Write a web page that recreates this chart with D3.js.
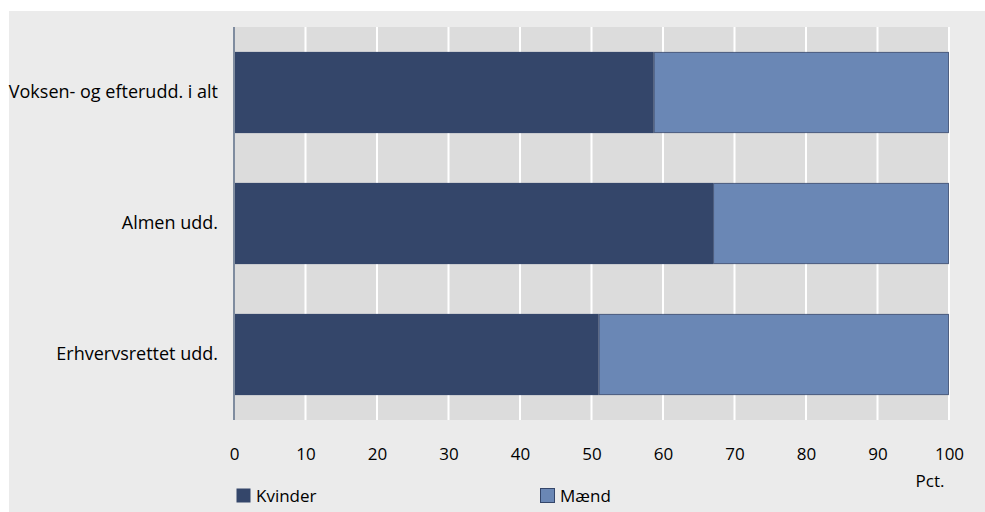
<!DOCTYPE html>
<html><head><meta charset="utf-8">
<script src="https://cdn.jsdelivr.net/npm/d3@7"></script>
<style>body{margin:0;background:#fff}svg{display:block}text{font-family:"Open Sans","Noto Sans",sans-serif;fill:#000}</style>
</head><body><svg id="c" width="985" height="512"></svg>
<script>
const categories = ["Voksen- og efterudd. i alt","Almen udd.","Erhvervsrettet udd."];
const kvinder = [58.7, 67.0, 51.0];
const maend = [41.3, 33.0, 49.0];
const xTicks = [0,10,20,30,40,50,60,70,80,90,100];
const seriesNames = ["Kvinder","Mænd"];
const colors = ["#34466a","#6a87b5"];

const svg = d3.select("#c");
svg.append("rect").attr("x",9).attr("y",11).attr("width",976).attr("height",501).attr("fill","#ebebeb");
const m = {l:234, r:949, t:27, b:420};
svg.append("rect").attr("x",m.l).attr("y",m.t).attr("width",m.r-m.l+1).attr("height",m.b-m.t).attr("fill","#dcdcdc");
const x = d3.scaleLinear().domain([0,100]).range([m.l,m.r]);
const y = d3.scaleBand().domain(categories).range([m.t,m.b]).paddingInner(0.38).paddingOuter(0.19);

svg.append("g").selectAll("line").data(xTicks.slice(1)).join("line")
  .attr("x1",d=>x(d)).attr("x2",d=>x(d)).attr("y1",m.t).attr("y2",m.b)
  .attr("stroke","#fff").attr("stroke-width",2);

const data = categories.map((c,i)=>({c, k:kvinder[i], m:maend[i]}));
svg.append("g").selectAll("rect").data(data).join("rect")
  .attr("x",x(0)).attr("y",d=>y(d.c)).attr("width",d=>x(d.k)-x(0)).attr("height",y.bandwidth())
  .attr("fill",colors[0]);
svg.append("g").selectAll("rect").data(data).join("rect")
  .attr("x",d=>x(d.k)+0.5).attr("y",d=>y(d.c)+0.5).attr("width",d=>x(d.k+d.m)-x(d.k)-1).attr("height",y.bandwidth()-1)
  .attr("fill",colors[1]).attr("stroke","#34466a").attr("stroke-width",1).attr("stroke-opacity",0.8);

svg.append("line").attr("x1",m.l).attr("x2",m.l).attr("y1",m.t).attr("y2",m.b).attr("stroke","#7f8c9f").attr("stroke-width",2);

const xa = d3.axisBottom(x).tickValues(xTicks).tickSize(0).tickPadding(0);
const gx = svg.append("g").attr("transform",`translate(0,${m.b})`).call(xa);
gx.select(".domain").remove();
gx.selectAll("text").attr("dy",null).attr("y",40).style("font-size","17px").style("font-family",'"Open Sans","Noto Sans",sans-serif').attr("fill","#000");

const ya = d3.axisLeft(y).tickSize(0).tickPadding(16);
const gy = svg.append("g").attr("transform",`translate(${m.l},0)`).call(ya);
gy.select(".domain").remove();
gy.selectAll("text").style("font-size","18px").style("font-family",'"Open Sans","Noto Sans",sans-serif').attr("fill","#000");

svg.append("text").attr("x",930).attr("y",487).attr("text-anchor","middle").style("font-size","17px").text("Pct.");

const legX = [236, 540];
seriesNames.forEach((n,i)=>{
  svg.append("rect").attr("x",legX[i]+0.5).attr("y",488.5).attr("width",14).attr("height",14).attr("fill",colors[i]).attr("stroke","#34466a").attr("stroke-width",i?1:0);
  svg.append("text").attr("x",legX[i]+20).attr("y",502).style("font-size","17px").text(n);
});
</script></body></html>
